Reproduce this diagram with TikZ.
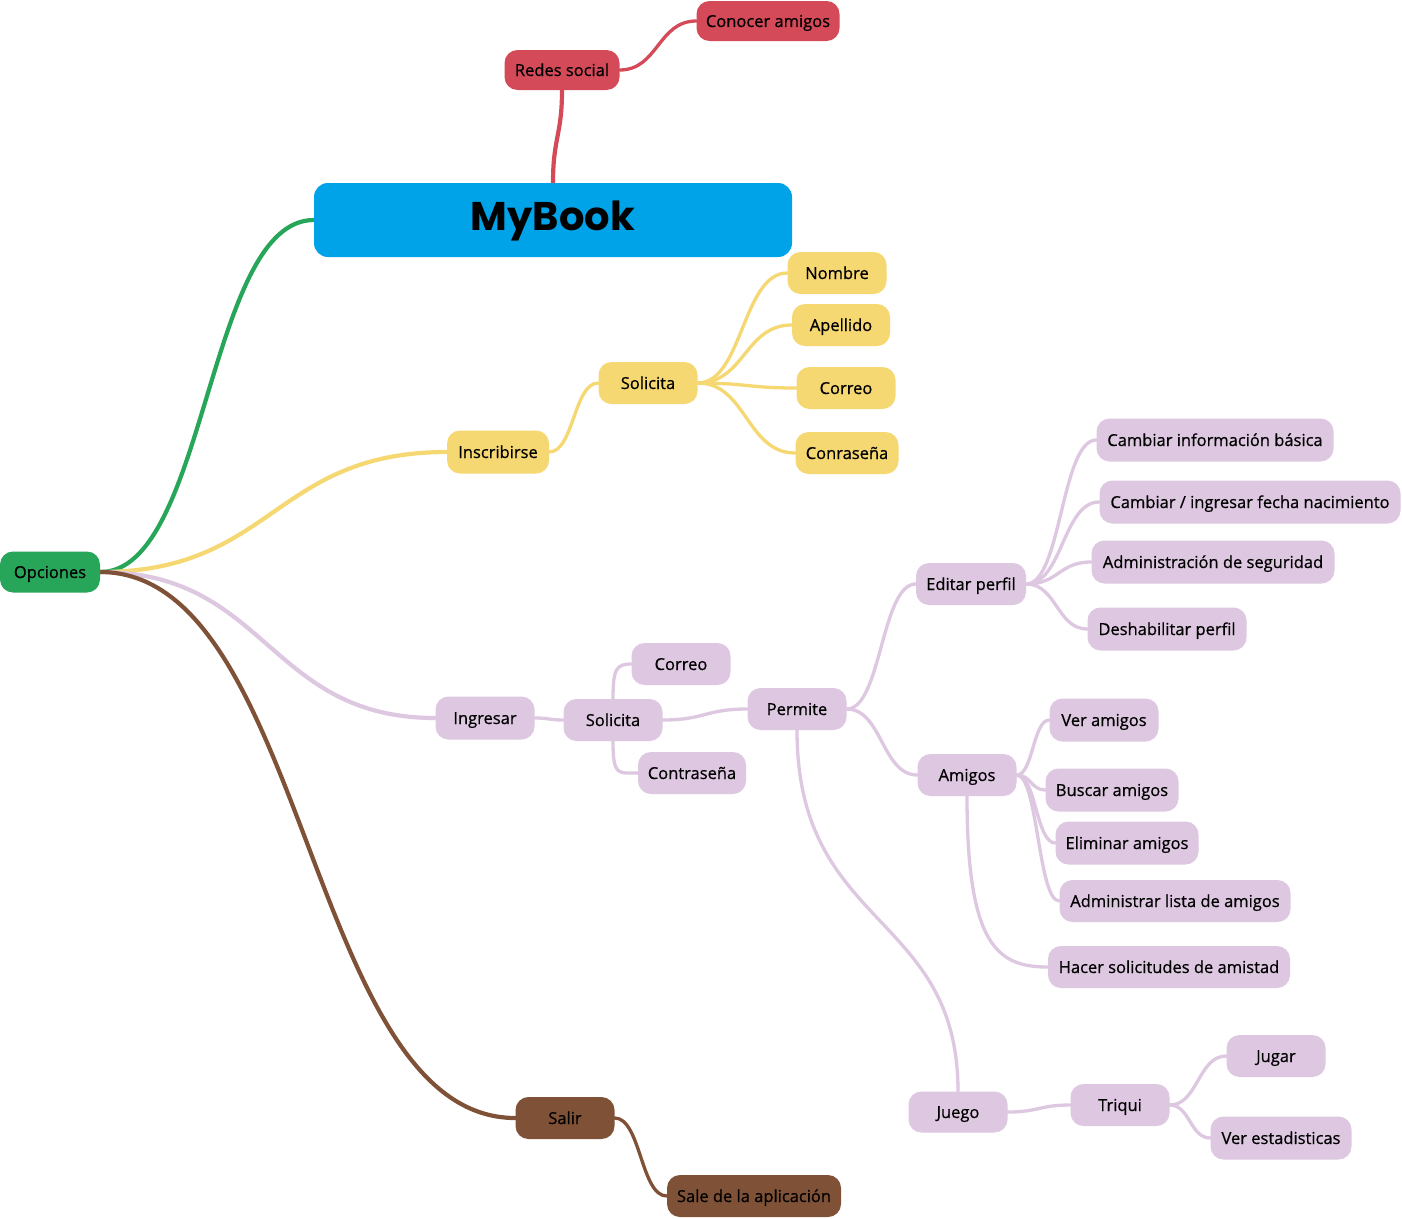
\documentclass[tikz,border=0pt]{standalone}
\usepackage{fontspec}
\setmainfont{Open Sans}[FakeBold=0.6]
\newfontfamily\titlefont{Poppins}
\usetikzlibrary{calc,backgrounds}
\definecolor{cblue}{RGB}{0,162,232}
\definecolor{cred}{RGB}{212,74,88}
\definecolor{cgreen}{RGB}{39,166,90}
\definecolor{cyellow}{RGB}{246,216,114}
\definecolor{cpurple}{RGB}{222,199,225}
\definecolor{cbrown}{RGB}{127,82,56}
\newcommand\lnk[3][]{\draw[#1] let \p1=(#2), \p2=(#3) in (\p1) .. controls (0.5*\x1+0.5*\x2,\y1) and (0.5*\x1+0.5*\x2,\y2) .. (\p2);}
\begin{document}
\begin{tikzpicture}[x=1pt,y=-1pt,
  box/.style={rounded corners=13pt, minimum height=42pt, inner sep=0pt, text height=13pt, text depth=1pt, font=\fontsize{16.5}{18}\selectfont, text=black},
  rbox/.style={box, fill=cred},
  gbox/.style={box, fill=cgreen},
  ybox/.style={box, fill=cyellow},
  pbox/.style={box, fill=cpurple},
  bbox/.style={box, fill=cbrown},
  ln/.style={line width=3.3pt, line cap=round},
  lnthick/.style={line width=4.2pt, line cap=round},
]
\useasboundingbox (0,0) rectangle (1402,1218);

% root
\node[box, fill=cblue, minimum width=478pt, minimum height=74pt, rounded corners=14pt, text height=30pt, text depth=10pt, font=\titlefont\bfseries\fontsize{40}{40}\selectfont] (MB) at (553,220) {MyBook};
\node[rbox, minimum width=115pt, minimum height=40pt] (RS) at (562,70) {Redes social};
\node[rbox, minimum width=143pt, minimum height=40pt] (CA) at (768,21) {Conocer amigos};
\node[gbox, minimum width=100pt, minimum height=41pt] (OP) at (50,572) {Opciones};

% yellow
\node[ybox, minimum width=102pt, minimum height=43pt] (IN) at (498,452) {Inscribirse};
\node[ybox, minimum width=99pt] (SY) at (648,383) {Solicita};
\node[ybox, minimum width=99pt] (NO) at (837,273) {Nombre};
\node[ybox, minimum width=98pt] (AP) at (841,325) {Apellido};
\node[ybox, minimum width=99pt] (CY) at (846,388) {Correo};
\node[ybox, minimum width=103pt] (CO) at (847,453) {Conraseña};

% purple
\node[pbox, minimum width=99pt, minimum height=43pt] (IG) at (485,718) {Ingresar};
\node[pbox, minimum width=99pt] (SP) at (613,720) {Solicita};
\node[pbox, minimum width=99pt] (CP) at (681,664) {Correo};
\node[pbox, minimum width=108pt] (CT) at (692,773) {Contraseña};
\node[pbox, minimum width=99pt] (PE) at (797,709) {Permite};
\node[pbox, minimum width=110pt] (EP) at (971,584) {Editar perfil};
\node[pbox, minimum width=237pt, minimum height=43pt] (E1) at (1215,440) {Cambiar información básica};
\node[pbox, minimum width=301pt, minimum height=43pt] (E2) at (1250,502) {Cambiar / ingresar fecha nacimiento};
\node[pbox, minimum width=243pt, minimum height=43pt] (E3) at (1213,562) {Administración de seguridad};
\node[pbox, minimum width=159pt, minimum height=43pt] (E4) at (1167,629) {Deshabilitar perfil};
\node[pbox, minimum width=99pt] (AM) at (967,775) {Amigos};
\node[pbox, minimum width=109pt, minimum height=43pt] (A1) at (1104,720) {Ver amigos};
\node[pbox, minimum width=133pt, minimum height=43pt] (A2) at (1112,790) {Buscar amigos};
\node[pbox, minimum width=143pt, minimum height=43pt] (A3) at (1127,843) {Eliminar amigos};
\node[pbox, minimum width=231pt] (A4) at (1175,901) {Administrar lista de amigos};
\node[pbox, minimum width=242pt] (A5) at (1169,967) {Hacer solicitudes de amistad};
\node[pbox, minimum width=99pt, minimum height=41pt] (JU) at (958,1112) {Juego};
\node[pbox, minimum width=99pt] (TR) at (1120,1105) {Triqui};
\node[pbox, minimum width=99pt] (JG) at (1276,1056) {Jugar};
\node[pbox, minimum width=141pt, minimum height=43pt] (VE) at (1281,1138) {Ver estadisticas};

% brown
\node[bbox, minimum width=99pt] (SA) at (565,1118) {Salir};
\node[bbox, minimum width=174pt] (SL) at (754,1196) {Sale de la aplicación};

\begin{scope}[on background layer]
\fill[white] (0,0) rectangle (1402,1218);
% red
\draw[lnthick, cred] (MB.north) .. controls +(0,-45) and +(0,45) .. (RS.south);
\lnk[ln, cred]{RS.east}{CA.west}
% green
\lnk[lnthick, cgreen]{OP.east}{MB.west}
% yellow
\lnk[lnthick, cyellow]{OP.east}{IN.west}
\lnk[ln, cyellow]{IN.east}{SY.west}
\lnk[ln, cyellow]{SY.east}{NO.west}
\lnk[ln, cyellow]{SY.east}{AP.west}
\lnk[ln, cyellow]{SY.east}{CY.west}
\lnk[ln, cyellow]{SY.east}{CO.west}
% purple
\lnk[lnthick, cpurple]{OP.east}{IG.west}
\lnk[ln, cpurple]{IG.east}{SP.west}
\draw[ln, cpurple] (SP.north) .. controls +(0,-30) and +(-15,0) .. (CP.west);
\draw[ln, cpurple] (SP.south) .. controls +(0,35) and +(-20,0) .. (CT.west);
\lnk[ln, cpurple]{SP.east}{PE.west}
\lnk[ln, cpurple]{PE.east}{EP.west}
\lnk[ln, cpurple]{PE.east}{AM.west}
\lnk[ln, cpurple]{EP.east}{E1.west}
\lnk[ln, cpurple]{EP.east}{E2.west}
\lnk[ln, cpurple]{EP.east}{E3.west}
\lnk[ln, cpurple]{EP.east}{E4.west}
\lnk[ln, cpurple]{AM.east}{A1.west}
\lnk[ln, cpurple]{AM.east}{A2.west}
\lnk[ln, cpurple]{AM.east}{A3.west}
\lnk[ln, cpurple]{AM.east}{A4.west}
\draw[ln, cpurple] (AM.south) .. controls +(0,150) and +(-50,0) .. (A5.west);
\draw[ln, cpurple] (PE.south) .. controls +(0,200) and +(0,-180) .. (JU.north);
\lnk[ln, cpurple]{JU.east}{TR.west}
\lnk[ln, cpurple]{TR.east}{JG.west}
\lnk[ln, cpurple]{TR.east}{VE.west}
% brown
\lnk[lnthick, cbrown]{OP.east}{SA.west}
\lnk[ln, cbrown]{SA.east}{SL.west}
\end{scope}
\end{tikzpicture}
\end{document}
